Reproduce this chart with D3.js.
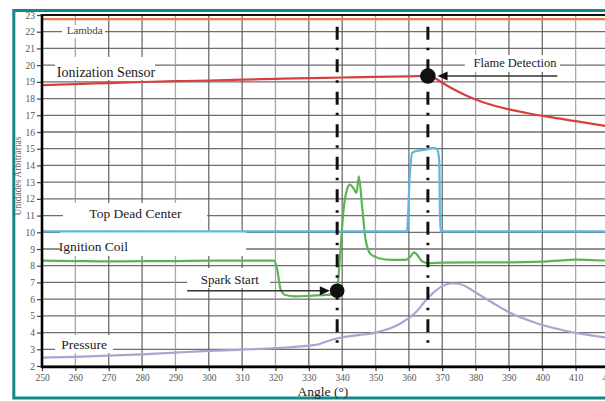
<!DOCTYPE html>
<html>
<head>
<meta charset="utf-8">
<script src="https://cdn.jsdelivr.net/npm/d3@7"></script>
<style>
  body { margin: 0; background: #fff; }
  svg text { font-family: "Liberation Serif", "DejaVu Serif", serif; }
</style>
</head>
<body>
<svg id="chart" width="605" height="401"></svg>
<script>
// ---- data (crank angle in degrees, arbitrary units) ----
const angleTicks = [250, 260, 270, 280, 290, 300, 310, 320, 330, 340, 350, 360, 370, 380, 390, 400, 410, 420];
const unitTicks = [2, 3, 4, 5, 6, 7, 8, 9, 10, 11, 12, 13, 14, 15, 16, 17, 18, 19, 20, 21, 22, 23];

const lambda = [[250, 22.75], [420, 22.75]];

const ionization = [
  [250, 18.8], [260, 18.87], [270, 18.93], [280, 18.99], [290, 19.04], [300, 19.08],
  [310, 19.13], [320, 19.18], [330, 19.22], [340, 19.26], [350, 19.3], [360, 19.33],
  [365.7, 19.35], [367, 19.3], [368, 19.2], [370, 18.95], [373, 18.6], [377, 18.2],
  [382, 17.8], [388, 17.45], [395, 17.15], [402, 16.9], [410, 16.65], [420, 16.33]
];

const topDeadCenter = [
  [250, 10.05], [359.4, 10.05], [360.3, 13.5], [361, 14.75], [362, 14.85], [365, 14.95],
  [367.5, 15.05], [368.5, 14.95], [369.1, 14.3], [369.4, 10.05], [420, 10.05]
];

const ignitionCoil = [
  [250, 8.3], [260, 8.28], [270, 8.26], [280, 8.27], [290, 8.28], [300, 8.3], [310, 8.3],
  [319.5, 8.3], [320.5, 7.8], [321.5, 6.6], [323, 6.25], [326, 6.17], [330, 6.2], [335, 6.25],
  [337.5, 6.3], [338.5, 6.6], [339.5, 9.0], [340.5, 11.5], [341.5, 12.6], [342.3, 12.85],
  [343.5, 12.6], [344.3, 12.35], [345, 13.35], [346, 11.5], [347, 9.6], [348.5, 8.7],
  [351, 8.45], [355, 8.35], [359, 8.35], [360.5, 8.55], [361.5, 8.8], [362.5, 8.65],
  [364, 8.25], [366, 8.15], [370, 8.18], [380, 8.2], [390, 8.2], [400, 8.24], [406, 8.32],
  [410, 8.36], [415, 8.34], [420, 8.3]
];

const pressure = [
  [250, 2.5], [260, 2.55], [270, 2.62], [280, 2.7], [290, 2.8], [297, 2.88], [310, 2.98],
  [320, 3.07], [330, 3.22], [333, 3.3], [335, 3.45], [340, 3.72], [345, 3.85], [350, 4.0],
  [355, 4.3], [358, 4.6], [362, 5.2], [365.6, 6.05], [368, 6.5], [370, 6.78], [373, 6.95],
  [375, 6.92], [378, 6.65], [380, 6.4], [385, 5.8], [390, 5.22], [395, 4.8], [400, 4.45],
  [405, 4.2], [410, 3.98], [415, 3.82], [420, 3.68]
];

const sparkStart = [338.5, 6.5];
const flameDetection = [365.7, 19.35];

// ---- layout ----
const svg = d3.select("#chart");
const serif = "'Liberation Serif', 'DejaVu Serif', serif";
const x = d3.scaleLinear().domain([250, 420]).range([42, 609]);
const y = d3.scaleLinear().domain([2, 23]).range([366, 15]);
const plotRight = 605, plotTop = 15, plotBottom = 367;

// teal frame
svg.append("rect")
  .attr("x", 13.8).attr("y", 10.5).attr("width", 620).attr("height", 387.5)
  .attr("fill", "none").attr("stroke", "#14878a").attr("stroke-width", 3);

svg.append("defs").append("clipPath").attr("id", "plot")
  .append("rect").attr("x", 42).attr("y", plotTop).attr("width", plotRight - 42).attr("height", plotBottom - plotTop);

const plot = svg.append("g").attr("clip-path", "url(#plot)");

// grid
plot.append("g").selectAll("line").data(unitTicks).join("line")
  .attr("x1", 42).attr("x2", plotRight)
  .attr("y1", d => y(d)).attr("y2", d => y(d))
  .attr("stroke", "#555").attr("stroke-width", 1.3).attr("opacity", 0.85);
plot.append("g").selectAll("line").data(angleTicks.slice(1)).join("line")
  .attr("x1", d => x(d)).attr("x2", d => x(d))
  .attr("y1", plotTop).attr("y2", plotBottom)
  .attr("stroke", (d, i) => i % 3 === 0 ? "#999" : "#555")
  .attr("stroke-width", 1.3).attr("opacity", 0.85);

// white boxes behind the series labels (angle / unit extents)
const labelBoxes = [
  [256.0, 268.9, 22.4, 21.62],   // Lambda
  [253.9, 283.9, 20.49, 19.11],  // Ionization Sensor
  [376.8, 405.3, 20.6, 19.6],    // Flame Detection
  [256.3, 299.5, 11.75, 10.1],   // Top Dead Center
  [255.4, 311.2, 10.1, 8.58],    // Ignition Coil
  [253.9, 271.3, 3.85, 2.77],    // Pressure
  [293.5, 318.4, 7.86, 6.67]     // Spark Start
];
plot.append("g").selectAll("rect").data(labelBoxes).join("rect")
  .attr("x", d => x(d[0])).attr("width", d => x(d[1]) - x(d[0]))
  .attr("y", d => y(d[2])).attr("height", d => y(d[3]) - y(d[2]))
  .attr("fill", "#fff");

// series
const line = d3.line().x(d => x(d[0])).y(d => y(d[1])).curve(d3.curveMonotoneX);
const series = [
  { data: pressure, color: "#b3a0d3" },
  { data: ignitionCoil, color: "#5ab552" },
  { data: topDeadCenter, color: "#62b6de" },
  { data: ionization, color: "#d8403e" },
  { data: lambda, color: "#e5814e" }
];
plot.append("g").selectAll("path").data(series).join("path")
  .attr("d", d => line(d.data))
  .attr("fill", "none").attr("stroke", d => d.color).attr("stroke-width", 2.2);

// event markers: dash-dot verticals
plot.append("g").selectAll("line").data([sparkStart, flameDetection]).join("line")
  .attr("x1", d => x(d[0])).attr("x2", d => x(d[0]))
  .attr("y1", y(22.3)).attr("y2", y(3.2))
  .attr("stroke", "#111").attr("stroke-width", 3)
  .attr("stroke-dasharray", "13,8,2.5,9");

// arrows
const arrows = [
  { from: [293.5, 6.5], to: [336.3, 6.5] },
  { from: [404.5, 19.35], to: [368.6, 19.35] }
];
const ag = svg.append("g");
arrows.forEach(a => {
  const x1 = x(a.from[0]), x2 = x(a.to[0]), yy = y(a.from[1]);
  const dir = Math.sign(x2 - x1);
  ag.append("line").attr("x1", x1).attr("x2", x2 - dir * 8).attr("y1", yy).attr("y2", yy)
    .attr("stroke", "#333").attr("stroke-width", 1.6);
  ag.append("path")
    .attr("d", `M${x2},${yy} L${x2 - dir * 10},${yy - 4.5} L${x2 - dir * 10},${yy + 4.5} Z`)
    .attr("fill", "#111");
});

// event dots
svg.append("g").selectAll("circle").data([sparkStart, flameDetection]).join("circle")
  .attr("cx", d => x(d[0])).attr("cy", d => y(d[1]))
  .attr("r", (d, i) => i === 0 ? 7.3 : 7.8)
  .attr("fill", "#111");

// series labels
const labels = [
  { text: "Lambda", at: [262.8, 22.1], size: 11, color: "#444" },
  { text: "Ionization Sensor", at: [269.2, 19.55], size: 14, color: "#1a1a1a" },
  { text: "Flame Detection", at: [391.8, 20.1], size: 12.5, color: "#1a1a1a" },
  { text: "Top Dead Center", at: [278.0, 11.15], size: 13.5, color: "#1a1a1a" },
  { text: "Ignition Coil", at: [265.4, 9.15], size: 13.5, color: "#1a1a1a" },
  { text: "Pressure", at: [262.6, 3.3], size: 13.5, color: "#1a1a1a" },
  { text: "Spark Start", at: [306.3, 7.2], size: 13, color: "#1a1a1a" }
];
svg.append("g").selectAll("text").data(labels).join("text")
  .attr("x", d => x(d.at[0])).attr("y", d => y(d.at[1]))
  .attr("text-anchor", "middle").attr("dominant-baseline", "central")
  .attr("font-family", serif)
  .attr("font-size", d => d.size).attr("fill", d => d.color)
  .text(d => d.text);

// axes
const yAxis = svg.append("g").attr("transform", "translate(42,0)")
  .call(d3.axisLeft(y).tickValues(unitTicks).tickSize(5).tickPadding(2).tickFormat(d3.format("d")));
const xAxis = svg.append("g").attr("transform", `translate(0,${plotBottom})`)
  .call(d3.axisBottom(x).tickValues(angleTicks).tickSize(4).tickPadding(3).tickFormat(d3.format("d")));
[yAxis, xAxis].forEach(g => {
  g.select(".domain").remove();
  g.selectAll(".tick line").attr("stroke", "#444").attr("stroke-width", 1.2);
  g.selectAll(".tick text").attr("fill", "#555").attr("font-size", 9.5)
    .attr("font-family", serif);
});

// plot border (left, top, bottom)
svg.append("line").attr("x1", 42).attr("x2", 42).attr("y1", plotTop - 1).attr("y2", plotBottom + 1)
  .attr("stroke", "#000").attr("stroke-width", 2.6);
svg.append("line").attr("x1", 41).attr("x2", plotRight).attr("y1", plotTop).attr("y2", plotTop)
  .attr("stroke", "#111").attr("stroke-width", 2);
svg.append("line").attr("x1", 41).attr("x2", plotRight).attr("y1", plotBottom).attr("y2", plotBottom)
  .attr("stroke", "#000").attr("stroke-width", 2.4);

// axis titles
svg.append("text").attr("x", 323).attr("y", 396).attr("text-anchor", "middle")
  .attr("font-family", serif)
  .attr("font-size", 13.5).attr("fill", "#222").text("Angle (°)");
svg.append("text").attr("transform", "translate(21,176) rotate(-90)")
  .attr("text-anchor", "middle").attr("font-size", 9.5).attr("fill", "#666")
  .attr("font-family", serif)
  .text("Unidades Arbitrárias");
</script>
</body>
</html>
